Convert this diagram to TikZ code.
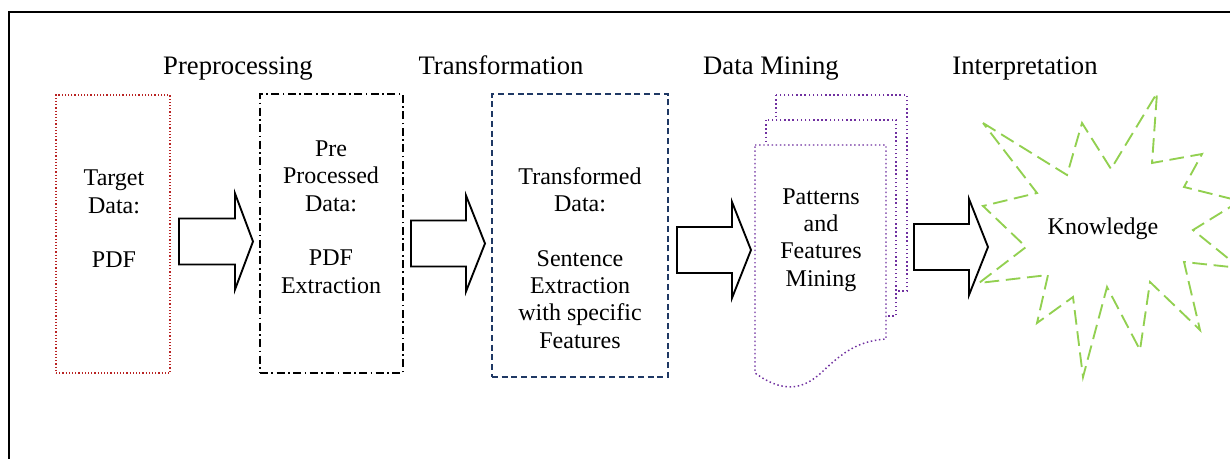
\documentclass[tikz,border=0pt]{standalone}
\usepackage{fontspec}
\setmainfont{Liberation Serif}
\definecolor{tred}{RGB}{185,35,35}
\definecolor{tnavy}{RGB}{31,56,100}
\definecolor{tpurple}{RGB}{112,48,160}
\definecolor{tgreen}{RGB}{146,208,80}
\begin{document}
\begin{tikzpicture}[x=0.75pt,y=-0.75pt,
  frame/.style={draw=black, line width=1.5pt},
  stage/.style={font=\rmfamily\fontsize{20}{24}\selectfont, anchor=base, inner sep=0pt},
  boxtext/.style={font=\rmfamily\fontsize{18}{20.5}\selectfont, align=center, inner sep=0pt},
  box/.style={rectangle, inner sep=0pt, outer sep=0pt},
  targetbox/.style={box, draw=tred, line width=0.9pt, dash pattern=on 0.9pt off 1.5pt},
  prebox/.style={box, draw=black, line width=1.1pt, dash pattern=on 6pt off 2.6pt on 1.2pt off 2.6pt},
  transbox/.style={box, draw=tnavy, line width=1.1pt, dash pattern=on 4.5pt off 2.8pt},
  docpage/.style={draw=tpurple, fill=white, line width=1.1pt, dash pattern=on 1.1pt off 2pt},
  burst/.style={draw=tgreen, line width=1.4pt, dash pattern=on 11pt off 5pt},
  blockarrow/.style={draw=black, fill=white, line width=1.4pt, line join=miter}]
\useasboundingbox (0,0) rectangle (1230,459);

% outer frame (runs past the right and bottom edges)
\draw[frame] (9,470) -- (9,12) -- (1245,12);

% stage titles
\node[stage] (tpre)   at (238,75)  {Preprocessing};
\node[stage] (ttrans) at (501,75)  {Transformation};
\node[stage] (tmine)  at (771,75)  {Data Mining};
\node[stage] (tinter) at (1025,75) {Interpretation};

% stage boxes
\node[targetbox, minimum width=85.5pt,  minimum height=208.5pt]  (target) at (113,234)   {};
\node[prebox,    minimum width=107.25pt, minimum height=209.25pt] (pre)    at (331.5,233.5) {};
\node[transbox,  minimum width=132pt,   minimum height=212.25pt] (trans)  at (580,235.5) {};

\node[boxtext] (targettext) at (114,219) {Target\\Data:\\[20.5pt]PDF};
\node[boxtext] (pretext)    at (331,217) {Pre\\Processed\\Data:\\[20.5pt]PDF\\Extraction};
\node[boxtext] (transtext)  at (580,258) {Transformed\\Data:\\[20.5pt]Sentence\\Extraction\\with specific\\Features};

% stacked documents
\path[docpage] (776,95) rectangle (907,291);
\path[docpage] (766,120) rectangle (896,316);
\path[docpage] (755,145) -- (886,145) -- (886,339)
  .. controls (860,341) and (845,350) .. (822,372)
  .. controls (805,388) and (785,395) .. (755,373) -- cycle;
\node[boxtext] (minetext) at (821,240) {Patterns\\and\\Features\\Mining};

% knowledge burst
\path[burst] (983,123) -- (1067,175) -- (1082,123) -- (1111,169) -- (1157,93)
  -- (1152,163) -- (1202,154) -- (1184,187) -- (1240,201) -- (1193,230)
  -- (1240,268) -- (1184,262) -- (1200,330) -- (1150,282) -- (1140,350)
  -- (1107,287) -- (1083,377) -- (1073,297) -- (1037,323) -- (1048,275)
  -- (979,283) -- (1026,247) -- (983,206) -- (1037,193) -- cycle;
\node[boxtext] (knowledge) at (1103,229) {Knowledge};

% block arrows: tail x, head base x, tip x, centre y
\newcommand{\flowarrow}[4]{%
  \draw[blockarrow] (#1,#4-23) -- (#2,#4-23) -- (#2,#4-48) -- (#3,#4)
    -- (#2,#4+48) -- (#2,#4+23) -- (#1,#4+23) -- cycle;}
\flowarrow{179}{235}{253}{241.5}
\flowarrow{411}{466}{485}{243.5}
\flowarrow{677}{732}{751}{250}
\flowarrow{914}{969}{988}{247}
\end{tikzpicture}
\end{document}
